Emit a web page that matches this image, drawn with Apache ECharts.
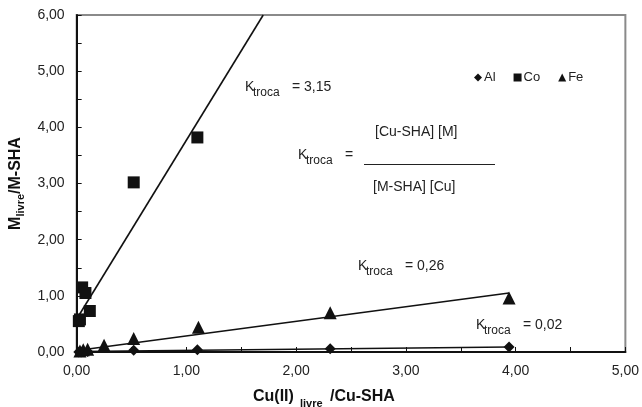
<!DOCTYPE html>
<html>
<head>
<meta charset="utf-8">
<script src="https://cdn.jsdelivr.net/npm/echarts@6/dist/echarts.min.js"></script>
<style>
html,body{margin:0;padding:0;background:#fff;}
#chart{width:642px;height:407px;}
</style>
</head>
<body>
<div id="chart"></div>
<script>
// ---- data ----
const alX = [0.02, 0.04, 0.06, 0.10, 0.52, 1.10, 2.31, 3.94];
const alY = [0.00, 0.00, 0.01, 0.01, 0.03, 0.04, 0.06, 0.09];
const coX = [0.02, 0.03, 0.05, 0.08, 0.12, 0.52, 1.10];
const coY = [0.55, 0.58, 1.15, 1.05, 0.73, 3.02, 3.82];
const feX = [0.03, 0.06, 0.10, 0.25, 0.52, 1.11, 2.31, 3.94];
const feY = [0.02, 0.04, 0.05, 0.12, 0.24, 0.44, 0.70, 0.96];
// trend lines (start/end points)
const coTrendX = [0.02, 1.70];
const coTrendY = [0.65, 6.00];
const feTrendX = [0.02, 3.94];
const feTrendY = [0.03, 1.05];
const alTrendX = [0.02, 3.94];
const alTrendY = [0.01, 0.09];
const kLabels = ['3,15', '0,26', '0,02'];
const xTicksMax = 5, yTicksMax = 6;

const zip = (a, b) => a.map((v, i) => [v, b[i]]);
const fmt = v => v.toFixed(2).replace('.', ',');
const FONT = 'Liberation Sans, Arial, sans-serif';
const MK = '#111';

const chart = echarts.init(document.getElementById('chart'));

function kText(x, y, val) {
  return [
    {type:'text', left:x, top:y-8, style:{text:'K', font:'14px ' + FONT, fill:'#222'}},
    {type:'text', left:x+8, top:y-1, style:{text:'troca', font:'12px ' + FONT, fill:'#222'}},
    {type:'text', left:x+47, top:y-8, style:{text: val === null ? '=' : '= ' + val, font:'14px ' + FONT, fill:'#222'}}
  ];
}

const graphics = [].concat(
  kText(245, 88, kLabels[0]),
  kText(358, 267, kLabels[1]),
  kText(476, 326, kLabels[2]),
  kText(298, 156, null),
  [
    {type:'text', left:375, top:125, style:{text:'[Cu-SHA] [M]', font:'14px ' + FONT, fill:'#222'}},
    {type:'line', shape:{x1:364, y1:164.5, x2:495, y2:164.5}, style:{stroke:'#222', lineWidth:1}},
    {type:'text', left:373, top:180, style:{text:'[M-SHA] [Cu]', font:'14px ' + FONT, fill:'#222'}},
    // x axis title
    {type:'text', left:253, top:389, style:{text:'Cu(II)', font:'bold 16px ' + FONT, fill:'#111'}},
    {type:'text', left:300, top:398, style:{text:'livre', font:'bold 11px ' + FONT, fill:'#111'}},
    {type:'text', left:330, top:389, style:{text:'/Cu-SHA', font:'bold 16px ' + FONT, fill:'#111'}}
  ]
);

const option = {
  animation: false,
  backgroundColor: '#fff',
  textStyle: {fontFamily: FONT},
  grid: {left: 72, right: 14, top: 15, bottom: 55, show: true, borderColor: '#8a8a8a', borderWidth: 2, backgroundColor: 'transparent'},
  legend: {
    left: 469, top: 66, itemWidth: 8, itemHeight: 8, itemGap: 18,
    textStyle: {fontSize: 13, color: '#222', fontFamily: FONT, padding: [0,0,0,-3]},
    data: [
      {name: 'Al', icon: 'diamond'},
      {name: 'Co', icon: 'rect'},
      {name: 'Fe', icon: 'triangle'}
    ]
  },
  xAxis: {
    type: 'value', min: 0, max: xTicksMax, interval: 1,
    axisLine: {lineStyle: {color: '#111', width: 2}},
    axisTick: {show: true, inside: true, length: 5, lineStyle: {color: '#111'}},
    minorTick: {show: true, splitNumber: 2, length: 5, lineStyle: {color: '#111'}},
    splitLine: {show: false},
    axisLabel: {formatter: fmt, fontSize: 14, color: '#222', margin: 12, fontFamily: FONT}
  },
  yAxis: {
    type: 'value', min: 0, max: yTicksMax, interval: 1,
    name: 'M{sub|livre}/M-SHA', nameLocation: 'middle', nameGap: 47, nameRotate: 90,
    nameTextStyle: {fontSize: 16, fontWeight: 'bold', color: '#111', fontFamily: FONT,
      rich: {sub: {fontSize: 11, fontWeight: 'bold', padding: [10, 0, 0, 0], fontFamily: FONT, color:'#111'}}},
    axisLine: {show: true, lineStyle: {color: '#111', width: 2}},
    axisTick: {show: true, inside: true, length: 5, lineStyle: {color: '#111'}},
    minorTick: {show: true, splitNumber: 2, length: 5, lineStyle: {color: '#111'}},
    splitLine: {show: false},
    axisLabel: {formatter: fmt, fontSize: 14, color: '#222', margin: 12, fontFamily: FONT}
  },
  series: [
    {name: 'CoTrend', type: 'line', data: zip(coTrendX, coTrendY), showSymbol: false, symbol: 'none',
     lineStyle: {color: '#111', width: 1.6}, silent: true, z: 1},
    {name: 'FeTrend', type: 'line', data: zip(feTrendX, feTrendY), showSymbol: false, symbol: 'none',
     lineStyle: {color: '#111', width: 1.6}, silent: true, z: 1},
    {name: 'AlTrend', type: 'line', data: zip(alTrendX, alTrendY), showSymbol: false, symbol: 'none',
     lineStyle: {color: '#111', width: 1.6}, silent: true, z: 1},
    {name: 'Al', type: 'scatter', symbol: 'diamond', symbolSize: 11, data: zip(alX, alY), itemStyle: {color: MK, opacity: 1}, z: 3},
    {name: 'Co', type: 'scatter', symbol: 'rect', symbolSize: 12, data: zip(coX, coY), itemStyle: {color: MK, opacity: 1}, z: 3},
    {name: 'Fe', type: 'scatter', symbol: 'triangle', symbolSize: 13, data: zip(feX, feY), itemStyle: {color: MK, opacity: 1}, z: 3}
  ],
  graphic: graphics
};
chart.setOption(option);
</script>
</body>
</html>
